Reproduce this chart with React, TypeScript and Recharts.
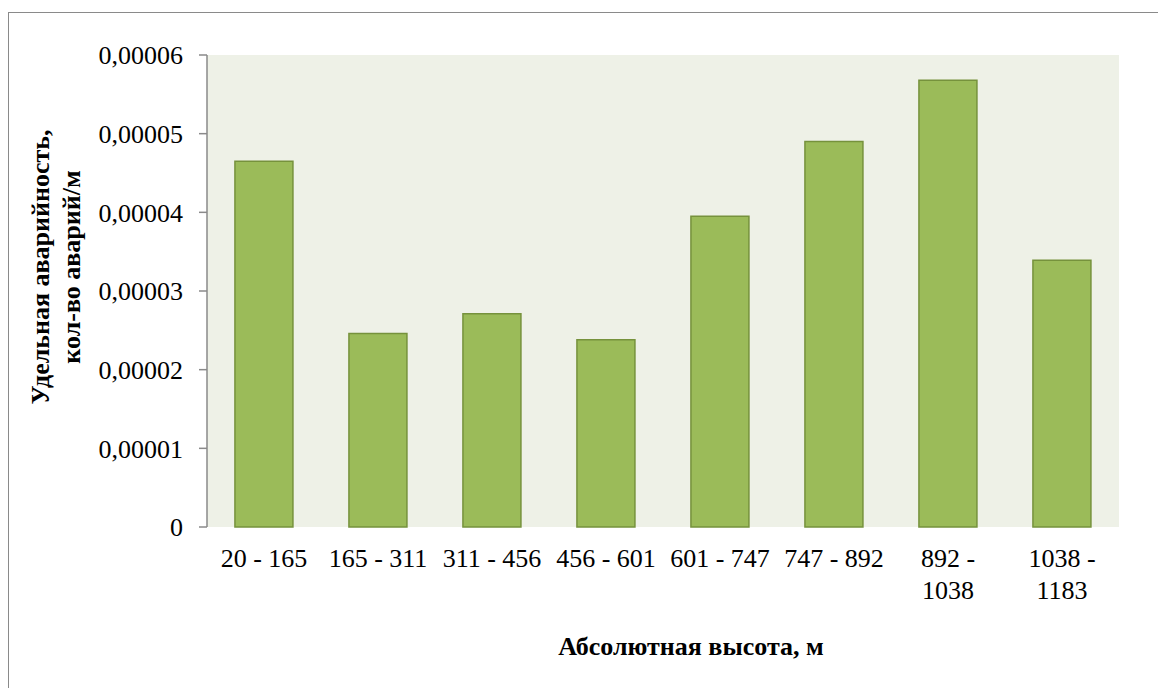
import React from "react";
import { BarChart, Bar, XAxis, YAxis, CartesianGrid, Label } from "recharts";

// Altitude bands (m) and specific accident rate per band (accidents per metre)
const categories = [
  "20 - 165",
  "165 - 311",
  "311 - 456",
  "456 - 601",
  "601 - 747",
  "747 - 892",
  "892 - 1038",
  "1038 - 1183",
];
const accidentRates = [
  0.0000465, 0.0000246, 0.0000271, 0.0000238, 0.0000395, 0.000049, 0.0000568, 0.0000339,
];
const yTicks = [0, 0.00001, 0.00002, 0.00003, 0.00004, 0.00005, 0.00006];
// boundaries between altitude bands, used for the tick marks under the axis
const bandEdges = [0, 1, 2, 3, 4, 5, 6, 7, 8];

const yTitleLines = ["Удельная аварийность,", "кол-во аварий/м"];
const xTitle = "Абсолютная высота, м";

const data = categories.map((range, i) => ({ range, rate: accidentRates[i] }));

const FONT = "'Liberation Serif', 'Times New Roman', serif";
const AXIS = "#8a8a8a";
const TICK_SIZE = 26;
const LINE_HEIGHT = 31.5;

const formatRate = (v: number) => (v === 0 ? "0" : v.toFixed(5).replace(".", ","));

// long band labels wrap after the dash
const splitLabel = (label: string): string[] => {
  if (label.length <= 9) return [label];
  const idx = label.indexOf("-");
  return [label.slice(0, idx + 1), label.slice(idx + 1).trim()];
};

const CategoryTick = (props: any) => {
  const { x, y, payload } = props;
  const lines = splitLabel(String(payload.value));
  return (
    <text
      x={x}
      y={y}
      textAnchor="middle"
      fill="#000"
      fontFamily={FONT}
      fontSize={TICK_SIZE}
    >
      {lines.map((line, i) => (
        <tspan key={i} x={x} dy={i === 0 ? "0.71em" : LINE_HEIGHT}>
          {line}
        </tspan>
      ))}
    </text>
  );
};

const YTitle = (props: any) => {
  const vb = props.viewBox || { x: 0, y: 0, width: 0, height: 0 };
  const cy = vb.y + vb.height / 2 - 24;
  const xs = [32, 63];
  return (
    <g>
      {yTitleLines.map((line, i) => (
        <text
          key={i}
          x={xs[i]}
          y={cy}
          transform={`rotate(-90, ${xs[i]}, ${cy})`}
          textAnchor="middle"
          dominantBaseline="central"
          fontFamily={FONT}
          fontSize={26}
          fontWeight="bold"
          fill="#000"
        >
          {line}
        </text>
      ))}
    </g>
  );
};

const XTitle = (props: any) => {
  const vb = props.viewBox || { x: 0, y: 0, width: 0, height: 0 };
  return (
    <text
      x={vb.x + vb.width / 2 + 28}
      y={647}
      textAnchor="middle"
      fontFamily={FONT}
      fontSize={26}
      fontWeight="bold"
      fill="#000"
    >
      {xTitle}
    </text>
  );
};

export default function App() {
  return (
    <div style={{ position: "relative", width: 1158, height: 680, overflow: "hidden", background: "#fff" }}>
      <div
        style={{
          position: "absolute",
          left: 0,
          top: 4,
          width: 1300,
          height: 900,
          borderTop: `1px solid ${AXIS}`,
          borderLeft: `1px solid ${AXIS}`,
        }}
      />
      <div style={{ position: "absolute", left: 0, top: 0 }}>
        <BarChart
          width={1150}
          height={680}
          data={data}
          margin={{ top: 47, right: 39, bottom: 0, left: 0 }}
          barCategoryGap="24.5%"
        >
          <CartesianGrid fill="#EEF1E7" stroke="none" horizontal={false} vertical={false} xAxisId="cat" />
          <XAxis
            xAxisId="edge"
            type="number"
            domain={[0, 8]}
            ticks={bandEdges}
            tick={false}
            tickSize={7}
            height={0}
            axisLine={{ stroke: AXIS, strokeWidth: 1.5 }}
            tickLine={{ stroke: AXIS, strokeWidth: 1.5 }}
            allowDataOverflow
          />
          <XAxis
            xAxisId="cat"
            dataKey="range"
            type="category"
            axisLine={false}
            tickLine={false}
            tickSize={0}
            tickMargin={22}
            height={161}
            interval={0}
            tick={<CategoryTick />}
          >
            <Label content={<XTitle />} />
          </XAxis>
          <YAxis
            width={199}
            domain={[0, 0.00006]}
            ticks={yTicks}
            tickFormatter={formatRate}
            tickSize={8}
            tickMargin={16}
            interval={0}
            axisLine={{ stroke: AXIS, strokeWidth: 1.5 }}
            tickLine={{ stroke: AXIS, strokeWidth: 1.5 }}
            tick={{ fill: "#000", fontFamily: FONT, fontSize: TICK_SIZE }}
          >
            <Label content={<YTitle />} />
          </YAxis>
          <Bar
            xAxisId="cat"
            dataKey="rate"
            fill="#9BBB59"
            stroke="#76923C"
            strokeWidth={1.5}
            isAnimationActive={false}
          />
        </BarChart>
      </div>
    </div>
  );
}
